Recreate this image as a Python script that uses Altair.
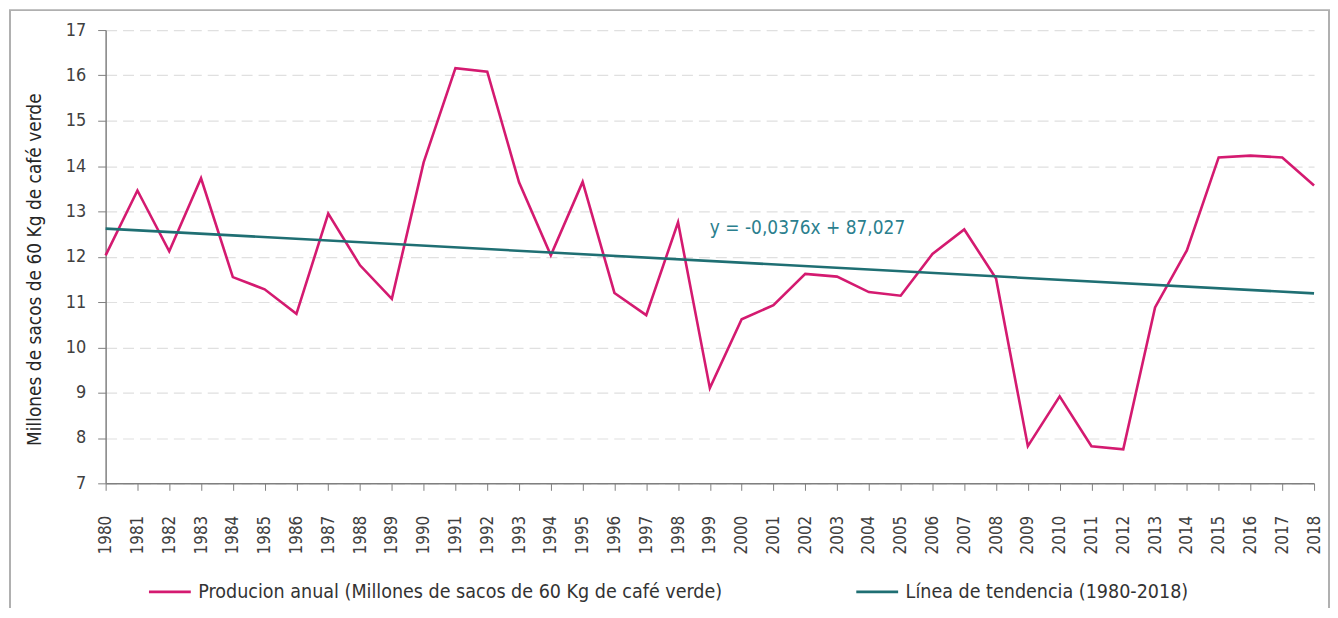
import altair as alt
import pandas as pd

years = list(range(1980, 2019))
production = [12.03, 13.46, 12.12, 13.73, 11.55, 11.28, 10.74, 12.95, 11.81, 11.07,
              14.08, 16.16, 16.08, 13.64, 12.03, 13.65, 11.20, 10.71, 12.76, 9.10,
              10.62, 10.93, 11.62, 11.56, 11.22, 11.14, 12.06, 12.60, 11.52, 7.82,
              8.92, 7.82, 7.75, 10.88, 12.14, 14.19, 14.23, 14.19, 13.57]
trend_years = [1980, 2018]
trend_values = [12.62, 11.19]

prod_label = "Producion anual (Millones de sacos de 60 Kg de café verde)"
trend_label = "Línea de tendencia (1980-2018)"
equation = "y = -0,0376x + 87,027"
eq_year = [1999]
eq_value = [12.63]

PINK = "#d41a70"
TEAL = "#1f6f73"
FONT = "DejaVu Sans Condensed, Liberation Sans Narrow, Liberation Sans, sans-serif"

df = pd.DataFrame(
    {"year": years + trend_years,
     "value": production + trend_values,
     "serie": [prod_label] * len(years) + [trend_label] * len(trend_years)}
)
eq_df = pd.DataFrame({"year": eq_year, "value": eq_value, "text": [equation]})

x_axis = alt.Axis(values=years, format="d", labelAngle=-90, grid=False,
                  title=None, labelFontSize=17, labelColor="#404040",
                  labelOverlap=False, labelFlush=False, labelBound=False,
                  labelPadding=25, tickSize=7, tickColor="#808080",
                  domainColor="#808080", domainWidth=1.5, labelFont=FONT)
y_axis = alt.Axis(values=list(range(7, 18)), title="Millones de sacos de 60 Kg de café verde",
                  titleFontSize=19, titleFontWeight="normal", titleColor="#262626",
                  titleFont=FONT, titlePadding=21, titleY=240,
                  labelFontSize=18, labelColor="#404040", labelFont=FONT,
                  labelPadding=12, tickSize=8, tickColor="#808080",
                  domainColor="#808080", domainWidth=1.5,
                  gridColor="#e0e0e0", gridDash=[11, 6], gridWidth=1.2)
x_scale = alt.Scale(domain=[1980, 2018], nice=False, zero=False)
y_scale = alt.Scale(domain=[7, 17], nice=False, zero=False)

lines = alt.Chart(df).mark_line(strokeWidth=2.6).encode(
    x=alt.X("year:Q", scale=x_scale, axis=x_axis),
    y=alt.Y("value:Q", scale=y_scale, axis=y_axis),
    color=alt.Color("serie:N",
                    scale=alt.Scale(domain=[prod_label, trend_label], range=[PINK, TEAL]),
                    legend=alt.Legend(orient="none", legendX=42, legendY=541,
                                      direction="horizontal", title=None,
                                      symbolType="stroke", symbolSize=1764,
                                      symbolStrokeWidth=3, labelFontSize=19.6,
                                      labelFont=FONT, labelColor="#333333",
                                      labelOffset=6, columnPadding=128, labelLimit=0)),
    order=alt.Order("year:Q"),
)

eq_text = alt.Chart(eq_df).mark_text(align="left", baseline="middle", fontSize=19,
                                     font=FONT, color="#2b7f8e").encode(
    x=alt.X("year:Q", scale=x_scale, axis=x_axis),
    y=alt.Y("value:Q", scale=y_scale, axis=y_axis),
    text="text:N")

frame = alt.Chart(pd.DataFrame({"k": [0]})).mark_rect(
    fill=None, stroke="#b0b0b0", strokeWidth=2).encode(
    x=alt.value(-96), x2=alt.value(1228), y=alt.value(-20), y2=alt.value(700))

chart = alt.layer(frame, lines, eq_text).properties(
    width=1213, height=455,
    autosize=alt.AutoSizeParams(type="none"),
    padding={"left": 98, "top": 21, "right": 16, "bottom": 124},
).configure_view(stroke=None)

chart.save("out.html", embed_options={"renderer": "svg", "actions": False})
